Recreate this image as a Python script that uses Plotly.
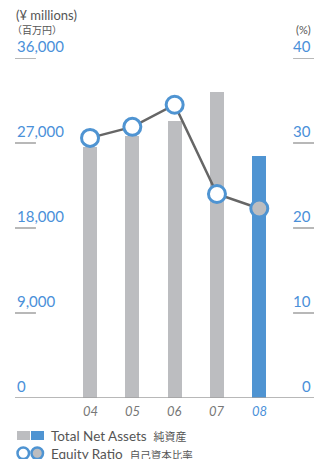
import plotly.graph_objects as go

# Fiscal years and values
years = ["04", "05", "06", "07", "08"]
net_assets = [26600, 27700, 29300, 32400, 25600]      # ¥ millions
equity_ratio = [30.6, 31.9, 34.5, 24.0, 22.3]          # %
left_ticks = [0, 9000, 18000, 27000, 36000]
left_tick_text = ["0", "9,000", "18,000", "27,000", "36,000"]
right_ticks = [0, 10, 20, 30, 40]
right_tick_text = ["0", "10", "20", "30", "40"]

BLUE = "#4f94d2"
GRAY_BAR = "#bcbdc0"
LABEL_BLUE = "#4a90d9"
TEXT_GRAY = "#555555"
RULE_GRAY = "#a0a0a0"
FONT = "Lato"

bar_colors = [GRAY_BAR] * (len(years) - 1) + [BLUE]
marker_fill = ["white"] * (len(years) - 1) + [GRAY_BAR]

fig = go.Figure()
fig.add_trace(go.Bar(
    x=years, y=net_assets, marker=dict(color=bar_colors, line=dict(width=0)),
    width=0.33, yaxis="y", showlegend=False, hoverinfo="skip",
))
fig.add_trace(go.Scatter(
    x=years, y=equity_ratio, yaxis="y2", mode="lines+markers",
    line=dict(color="#666666", width=2.5),
    marker=dict(size=17, color=marker_fill, line=dict(color=BLUE, width=3)),
    showlegend=False, hoverinfo="skip",
))

annotations = []
shapes = []

# Left axis labels with short rules beneath
for v, t in zip(left_ticks, left_tick_text):
    annotations.append(dict(
        x=0, xref="paper", y=v, yref="y", text=t, showarrow=False,
        xanchor="left", yanchor="bottom", yshift=1,
        font=dict(family=FONT, size=15, color=LABEL_BLUE)))
    if v != 0:
        shapes.append(dict(type="line", xref="paper", yref="y",
                           x0=0, x1=0.07, y0=v, y1=v,
                           line=dict(color=RULE_GRAY, width=1.5)))

# Right axis labels with short rules beneath
for v, t in zip(right_ticks, right_tick_text):
    annotations.append(dict(
        x=0.997, xref="paper", y=v, yref="y2", text=t, showarrow=False,
        xanchor="right", yanchor="bottom", yshift=1,
        font=dict(family=FONT, size=15, color=LABEL_BLUE)))
    if v != 0:
        shapes.append(dict(type="line", xref="paper", yref="y2",
                           x0=0.93, x1=1.0, y0=v, y1=v,
                           line=dict(color=RULE_GRAY, width=1.5)))

# Baseline
shapes.append(dict(type="line", xref="paper", yref="y", x0=0, x1=1, y0=0, y1=0,
                   line=dict(color=RULE_GRAY, width=1.5)))

# Year labels (positioned by category index)
for i, yr in enumerate(years):
    annotations.append(dict(
        x=i, xref="x", y=0, yref="y", text=f"<i>{yr}</i>", showarrow=False,
        yanchor="top", yshift=-3,
        font=dict(family=FONT, size=13, color=LABEL_BLUE if i == len(years) - 1 else "#777777")))

# Unit captions
annotations += [
    dict(x=0, y=1, xref="paper", yref="paper", text="(¥ millions)", showarrow=False,
         xanchor="left", yanchor="bottom", yshift=33, xshift=-1,
         font=dict(family=FONT, size=13, color=TEXT_GRAY)),
    dict(x=0, y=1, xref="paper", yref="paper", text="（百万円）", showarrow=False,
         xanchor="left", yanchor="bottom", yshift=19, xshift=-5,
         font=dict(family="Noto Sans CJK JP", size=10, color=TEXT_GRAY)),
    dict(x=0.997, y=1, xref="paper", yref="paper", text="(%)", showarrow=False,
         xanchor="right", yanchor="bottom", yshift=20,
         font=dict(family=FONT, size=11, color=TEXT_GRAY)),
]

# Legend (drawn in pixel-like paper coordinates below the plot)
PW, PH = 299.0, 340.0
def px(x):
    return (x - 15) / PW
def py(y):
    return (398 - y) / PH

shapes += [
    dict(type="rect", xref="paper", yref="paper", x0=px(17), x1=px(30), y0=py(440), y1=py(431),
         fillcolor=GRAY_BAR, line=dict(width=0)),
    dict(type="rect", xref="paper", yref="paper", x0=px(31), x1=px(44), y0=py(440), y1=py(431),
         fillcolor=BLUE, line=dict(width=0)),
    dict(type="circle", xref="paper", yref="paper", x0=px(17.5), x1=px(29), y0=py(459), y1=py(447.5),
         fillcolor="white", line=dict(color=BLUE, width=2.5)),
    dict(type="circle", xref="paper", yref="paper", x0=px(31.5), x1=px(43), y0=py(459), y1=py(447.5),
         fillcolor=GRAY_BAR, line=dict(color=BLUE, width=2.5)),
]
annotations += [
    dict(x=px(49), y=py(436), xref="paper", yref="paper", showarrow=False,
         xanchor="left", yanchor="middle",
         text="Total Net Assets  <span style='font-family:Noto Sans CJK JP;font-size:11px'>純資産</span>",
         font=dict(family=FONT, size=13.5, color=TEXT_GRAY)),
    dict(x=px(49), y=py(454), xref="paper", yref="paper", showarrow=False,
         xanchor="left", yanchor="middle",
         text="Equity Ratio  <span style='font-family:Noto Sans CJK JP;font-size:10.5px'>自己資本比率</span>",
         font=dict(family=FONT, size=13.5, color=TEXT_GRAY)),
]

fig.update_layout(
    width=326, height=459,
    margin=dict(l=15, r=12, t=58, b=61),
    paper_bgcolor="white", plot_bgcolor="white",
    xaxis=dict(type="category", range=[-1.773, 5.293], showticklabels=False,
               showgrid=False, zeroline=False, showline=False, ticks=""),
    yaxis=dict(range=[0, 36000], showticklabels=False, showgrid=False,
               zeroline=False, showline=False, ticks=""),
    yaxis2=dict(range=[0, 40], overlaying="y", side="right", showticklabels=False,
                showgrid=False, zeroline=False, showline=False, ticks=""),
    shapes=shapes, annotations=annotations,
    bargap=0,
)

fig.write_html("out.html")
